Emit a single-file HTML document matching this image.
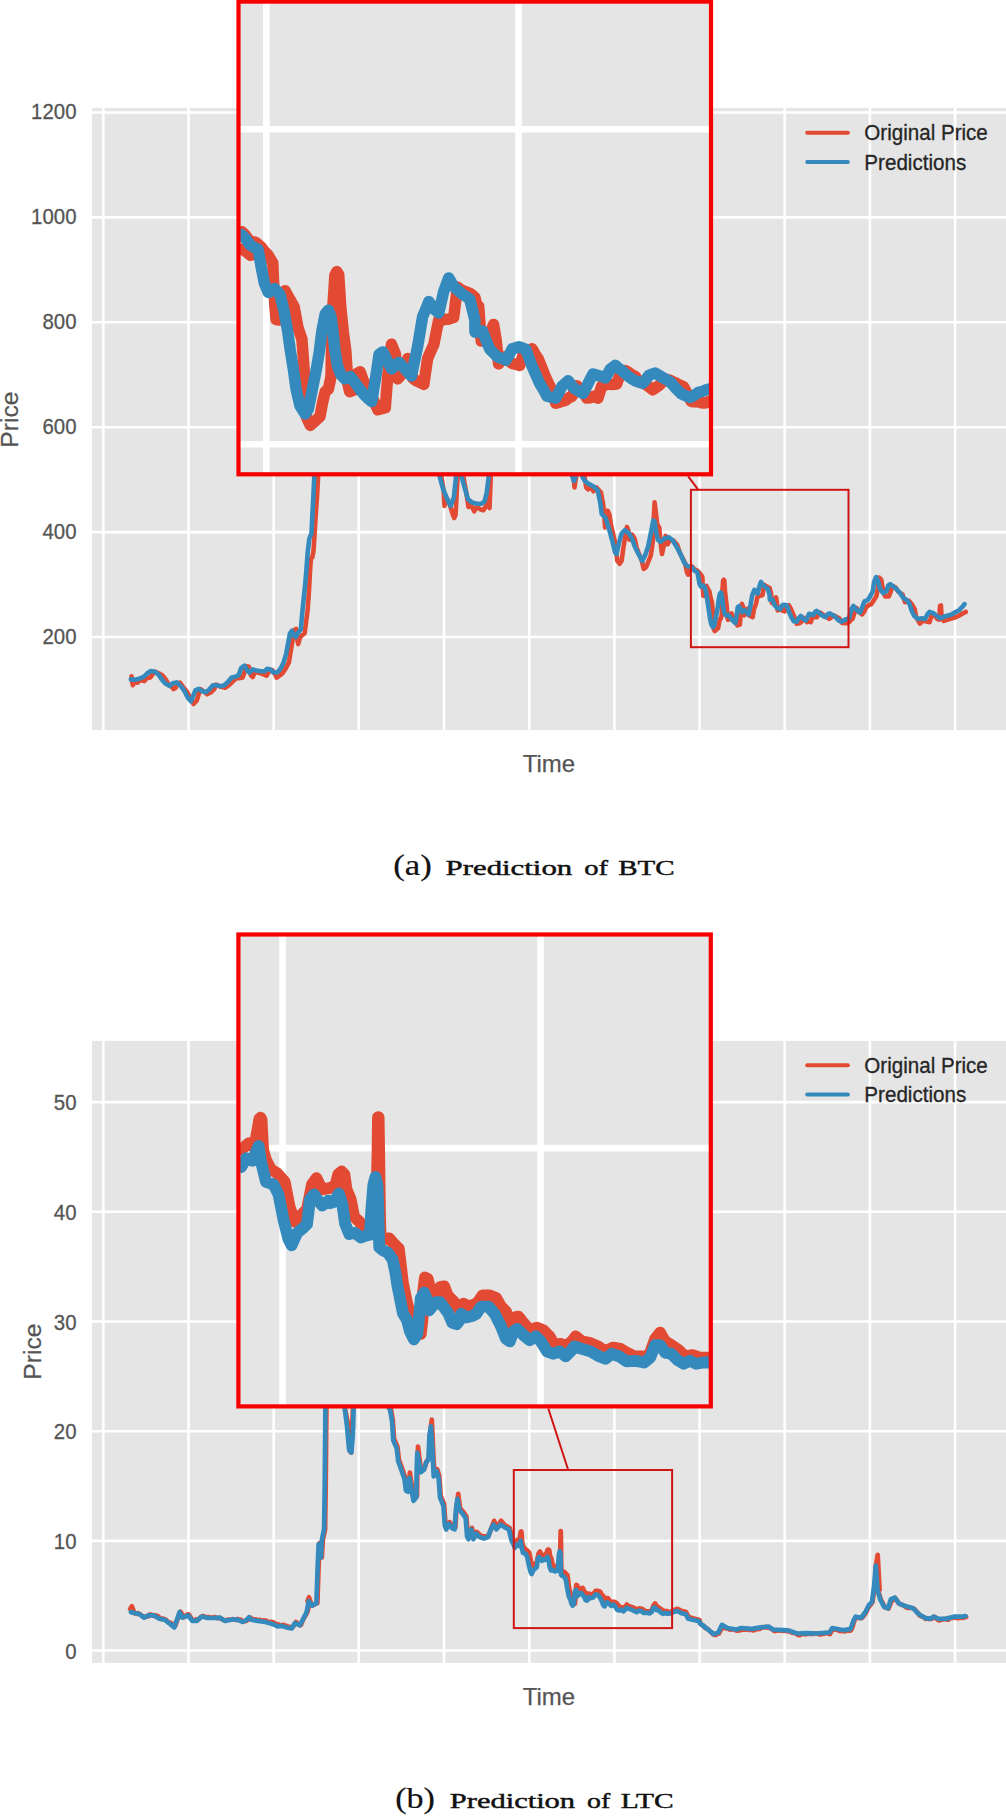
<!DOCTYPE html>
<html><head><meta charset="utf-8"><title>Prediction of BTC and LTC</title>
<style>html,body{margin:0;padding:0;background:#fff}body{width:1006px;height:1817px;overflow:hidden}svg{display:block}text{font-family:"Liberation Sans",sans-serif}.cap{font-family:"Liberation Serif",serif;fill:#111;stroke:#111;stroke-width:.45px}.tk{font-size:22px;fill:#555;stroke:#555;stroke-width:.3px}.ax{font-size:24px;fill:#555;stroke:#555;stroke-width:.25px}.lg{font-size:21.5px;fill:#262626;stroke:#262626;stroke-width:.3px}</style></head><body>
<svg width="1006" height="1817" viewBox="0 0 1006 1817">
<rect width="1006" height="1817" fill="#fff"/>
<!-- chart -->
<rect x="91.9" y="107.9" width="914.1" height="622.1" fill="#e5e5e5"/>
<path d="M103.3 107.9V730M188.5 107.9V730M273.7 107.9V730M358.8 107.9V730M444.0 107.9V730M529.2 107.9V730M614.4 107.9V730M699.6 107.9V730M784.7 107.9V730M869.9 107.9V730M955.1 107.9V730M91.9 112.5H1006M91.9 217.4H1006M91.9 322.3H1006M91.9 427.2H1006M91.9 532.1H1006M91.9 637.0H1006" stroke="#fff" stroke-width="2.6" fill="none"/>
<clipPath id="c1"><rect x="91.9" y="107.9" width="914.1" height="622.1"/></clipPath>
<g clip-path="url(#c1)" fill="none" stroke-linejoin="round" stroke-linecap="round" stroke-width="4.6">
<path d="M131.5 676.2 L132.8 685.2 L134.7 681.4 L137.3 682.6 L140.5 680.1 L144.4 681.1 L147 678.1 L150.2 677.5 L152.8 674.2 L155.4 671.7 L159.2 673.6 L162.5 675.5 L165.7 679.4 L168.3 683.9 L170.9 685.9 L173.5 689.1 L175.7 687.8 L177.3 683.3 L179.9 682.6 L183.2 687.2 L187 691.7 L190.3 698.2 L193.5 704 L196.7 700.7 L198.7 694.3 L200.6 689.1 L203.2 691 L207.1 694.3 L210.9 692.3 L214.2 689.1 L216.1 684.6 L220 686.5 L225.1 687.8 L229 685.2 L232.9 681.4 L236.1 678.1 L240 678.1 L242.5 677.6 L244.4 672.5 L246.3 666.2 L248.9 666.8 L250.8 675.1 L252.7 677 L254.6 672.5 L257.7 672.5 L262.2 673.8 L266.6 675.7 L269.1 671.3 L272.3 670 L274.8 673.8 L276.7 677.6 L279.5 675.7 L282.5 673.3 L285.8 668.2 L288.9 662.4 L290.5 652.3 L292.4 640.9 L294.3 630 L296.1 628.9 L297 638.4 L298.2 644.1 L300.1 637.1 L304.6 633.3 L306.1 621.9 L307.7 609.2 L309 590.3 L310 571.3 L310.9 558.6 L312.3 557.3 L313.5 551 L314.6 533.3 L315.8 514.3 L317.1 495.3 L318.1 476.3M441.4 476.4 L443.6 490.6 L444.5 505.9 L446.2 497.2 L449.5 503.7 L452.8 514.7 L454.3 518 L455.6 514.7 L456.7 492.8 L457.6 476.4M463.3 476.4 L466.3 492.8 L468.5 507 L470.7 503.7 L474.2 511.4 L476.8 507 L480.1 509.2 L483.4 510.3 L486.7 504.8 L488.2 495 L489.5 508.1 L490.8 476.4M573.6 476.5 L574.5 487.4 L576.1 476.5M584.5 476.5 L586.2 487.4 L588.1 489.4 L590.7 486.2 L593.5 491.3 L596.5 487.4 L601 492.6 L603 503.6 L604.2 513.9 L605.1 527.5 L606.6 512.6 L607.7 510.7 L609.4 514.6 L611.1 525.6 L613.9 537.2 L615.9 547.5 L617.2 560.5 L619.8 563.7 L621.7 560.5 L623.2 548.8 L624.9 538.5 L626.9 526.9 L628.4 530.7 L629.4 539.8 L632 534.6 L634.6 538.5 L636.6 547.5 L639.1 554 L641.7 560.5 L643.7 568.9 L646.2 566.9 L648.8 560.5 L650.8 555.3 L652.7 542.4 L653.7 519.1 L654.6 502.3 L655.9 512.6 L657.2 524.3 L659.2 527.5 L660.5 542.4 L662 554 L663.7 546.2 L665.6 535.9 L667.6 544.3 L670.1 539.8 L673.4 540.4 L677.3 545 L679.8 552.7 L682.4 557.9 L685 563 L686.9 572.1 L688.2 574.7 L690.2 568.2 L692 566.5 L693.1 567.8 L694.4 569.4 L696.5 570.1 L698.7 572 L700.6 574.2 L702.3 576.8 L702.6 582.4 L703 591 L703.4 595.7 L704.5 595.9 L704.7 591 L706.4 585.8 L708.2 589.3 L709.5 591.8 L710.7 598.3 L712 602.2 L712.5 608.2 L712.9 614.6 L713.1 621.1 L713.5 628 L714.8 631 L716.3 629.7 L718.1 628 L719 623.3 L719.8 619.4 L720.9 618.5 L721.8 614.6 L722 603.9 L722.4 591 L723.1 580.6 L723.7 579.8 L724.3 580.6 L725 591 L725.9 599.6 L726.7 606 L727.1 612.5 L727.4 616.8 L728 619.8 L729.7 619 L730.4 613.8 L731.5 613.4 L732.7 616.8 L733.2 617.1 L735.3 621.2 L737.4 625.4 L739.9 624.6 L740.7 613.8 L741.9 603.8 L743.2 607.2 L744 615.4 L746.1 613 L747.3 608.8 L749 615.4 L752.7 617.1 L754 608.8 L756 603.8 L757.7 595.6 L761 595.6 L762.7 594.8 L763.9 584.8 L766 586.1 L769.7 588.1 L771 593.1 L771.9 603 L773.9 602.2 L776 597.3 L776.8 602.2 L777.7 610.5 L779.7 608 L782.2 610.5 L784.7 611.3 L785.9 607.2 L788.8 605.1 L790.9 608.8 L793 613.8 L795.1 618.8 L796.7 623.7 L800 622.9 L802.1 621.2 L803.8 617.9 L805.8 619.6 L807.1 622.1 L809.6 621.2 L810.8 622.1 L812 617.9 L814.1 617.1 L817 617.1 L818.2 613.8 L819.9 612.5 L823.3 614.6 L824.5 616.7 L826.6 617.1 L829.1 618.8 L831.1 617.5 L833.6 615.4 L836.9 617.1 L839.4 618.3 L841.9 622.9 L846 623.3 L847.9 622.9 L849.5 621.6 L852.8 618.3 L854.7 611.9 L856.6 608 L858.6 611.9 L862.1 614.4 L864.4 611.3 L865.9 607.5 L868.5 605.4 L871.2 604.2 L873.8 600.4 L876.4 596.1 L878 588 L879.2 577.6 L881.2 579.6 L882.5 587.3 L885.1 596.4 L888.9 596.4 L890.9 591.2 L892.2 586 L895.4 587.3 L898.6 591.8 L902.5 594.4 L905.1 602.2 L909 600.9 L912.2 604.8 L914.8 609.3 L916.1 617 L920 623.5 L923.2 620.3 L926.4 621.6 L929.6 622.2 L931.3 616.4 L934.2 615.1 L937.4 619 L939.3 619.6 L940 606 L940.9 605.4 L941.7 618.3 L943.9 620.9 L947.7 619.6 L952.3 618.3 L956.1 617 L960 615.1 L963.2 613.2 L965.8 611.9" stroke="#e24a33"/><path d="M130.8 679.4 L135.3 679.8 L139.9 678.5 L144.4 676.4 L147.6 673 L150.8 671 L154.7 671.7 L158.6 674.6 L161.8 679.4 L165.1 683.3 L169.6 685.9 L172.8 683.3 L176.7 682.4 L180.6 685.9 L184.4 691 L187.7 697.5 L190.9 701.4 L192.8 696.9 L195.4 690.4 L198.7 688.8 L201.9 691 L205.8 692.3 L209 689.8 L212.9 685.2 L216.7 685.2 L220.6 686.3 L224.5 685.2 L228.4 681.4 L231.6 677.5 L235.5 676.8 L238.7 674.9 L241.3 667.8 L241.9 667.5 L244.4 665.6 L247 670 L249.5 672.5 L252.7 669.4 L256.5 670.6 L260.9 671.3 L264.7 671.3 L267.2 668.7 L270.4 669.4 L273.5 672.5 L277.3 672.5 L280.5 668.7 L283.7 662.4 L286.2 653.5 L288.1 643.4 L290 633.3 L291.9 630.8 L293.8 635.8 L295.7 637.1 L297.6 633.3 L300.8 629.5 L302 615.6 L303.9 596.6 L305.2 583.9 L306.5 568.7 L307.7 552.3 L309.4 538.4 L311.5 533.3 L312.4 514.3 L313.4 495.3 L314.3 476.3M439.6 476.4 L442.9 488.4 L447.3 499.4 L450.6 505.9 L453.9 497.2 L456 476.4M461.5 476.4 L464.8 488.4 L468.1 499.4 L472.4 502.6 L476.8 503.7 L481.2 503.7 L484.5 501.6 L486.7 492.8 L488.8 476.4M572.3 476.5 L573.9 481 L575.4 476.5M582.3 476.5 L584.9 481 L588.1 483.6 L593.3 486.2 L597.8 490.7 L600.4 503.6 L601.7 513.9 L605.5 517.8 L608.8 528.2 L612 539.8 L615.2 552.7 L616.5 554 L619.1 542.4 L621.7 533.3 L624.9 530.1 L628.8 533.3 L632 538.5 L634.6 546.2 L638.5 554 L642.4 561.1 L645.6 554 L648.2 546.2 L650.8 533.3 L653.3 520.4 L654.6 521.7 L655.9 530.7 L657.9 539.8 L660.5 541.7 L664.3 538.5 L668.9 537.2 L672.7 540.4 L677.3 548.2 L681.1 555.3 L684.4 563 L687.6 566.3 L690.8 566.9 L691.8 567.3 L693.1 568.6 L694.8 571 L697.4 572.2 L698.5 578.1 L699.5 583.7 L700.8 586.7 L703 585.4 L704.7 587.1 L706 592.3 L707.3 599.6 L708.2 606 L709.2 612.5 L710.1 619 L711.4 624.6 L713.1 627.1 L714.2 625.4 L715.5 619 L716.8 612.5 L717.9 606.5 L718.7 599.6 L719.8 594 L720.9 592.5 L721.8 594.9 L722.4 599.6 L723.1 606 L723.9 611.2 L725 614.2 L726.3 615.5 L728.2 614.9 L729.7 616.8 L731.5 619 L733.2 621.1 L735.3 622.9 L736.6 615.4 L737.8 607.2 L739 606.3 L740.7 609.6 L741.9 612.1 L744.4 610.1 L746.5 612.1 L748.6 614.6 L750.6 604.7 L752.3 594.8 L754.4 589.8 L756 592.3 L757.7 593.5 L759.3 586.5 L761 581.9 L762.7 584.8 L766 587.7 L768 589 L769.7 595.6 L769.8 599.7 L772.3 599.3 L774.8 605.5 L777.2 608 L780.1 609.2 L782.2 605.5 L784.3 604.7 L786.8 605.5 L788.8 611.3 L791.3 617.1 L793.8 621.2 L796.7 621.7 L798.8 617.9 L800.9 615.9 L802.9 618.8 L805.8 620.4 L807.9 616.3 L809.1 613.8 L810.8 614.2 L813.3 615 L814.9 612.1 L816.6 610.9 L818.7 612.5 L822 615.4 L825.7 617.1 L827.8 614.2 L829.9 613.4 L832.4 615 L835.3 616.7 L838.6 620.4 L841.5 621.7 L844.4 620 L847.9 618.8 L848.9 618.3 L851.5 609.3 L853.4 606 L856.6 609.9 L859.9 612.5 L862.4 606.7 L864.4 601.5 L867.6 600.2 L870.2 596.4 L872.8 591.2 L874.1 582.1 L876 577 L878 580.8 L879.9 588.6 L883.1 593.1 L886.4 591.2 L888.3 585.4 L890.2 584.1 L893.5 586.7 L896.7 589.2 L900.6 593.8 L903.8 598.3 L907 600.2 L909.6 604.1 L911.6 610.6 L914.1 615.7 L918 619 L921.9 618.3 L925.1 619 L927.7 613.8 L929.6 611.9 L933.5 613.2 L936.7 615.7 L940 618.3 L943.2 617 L947.1 615.7 L951 614.7 L954.8 612.5 L959.4 609.9 L962.6 606.7 L964.5 604.1" stroke="#348abd"/>
</g>
<text class="tk" transform="translate(76.5 119.2) scale(0.928 1)" text-anchor="end">1200</text>
<text class="tk" transform="translate(76.5 224.1) scale(0.928 1)" text-anchor="end">1000</text>
<text class="tk" transform="translate(76.5 329) scale(0.928 1)" text-anchor="end">800</text>
<text class="tk" transform="translate(76.5 433.9) scale(0.928 1)" text-anchor="end">600</text>
<text class="tk" transform="translate(76.5 538.8) scale(0.928 1)" text-anchor="end">400</text>
<text class="tk" transform="translate(76.5 643.7) scale(0.928 1)" text-anchor="end">200</text>
<rect x="690.9" y="489.8" width="157.60000000000002" height="157.40000000000003" fill="none" stroke="#d01414" stroke-width="2"/>
<path d="M688.2 476.4L698.3 489.8" stroke="#d01414" stroke-width="2" fill="none"/>
<rect x="238.5" y="1.6" width="472.5" height="472.7" fill="#e5e5e5"/>
<clipPath id="c1i"><rect x="238.5" y="1.6" width="472.5" height="472.7"/></clipPath>
<g clip-path="url(#c1i)" fill="none" stroke-linejoin="round" stroke-linecap="round">
<path d="M266.3 1.6V474.3M518.5 1.6V474.3M238.5 129.2H711M238.5 444.3H711" stroke="#fff" stroke-width="6.6" stroke-linecap="butt"/>
<path d="M241.8 231.8 L245 234.7 L248.9 240.2 L252.2 241.8 L255.4 242.2 L258.6 244.8 L261.8 247.8 L264.8 251.9 L267.7 254.5 L272.8 262.9 L273.5 279.9 L274.8 305 L276.1 319.6 L279.3 320.1 L279.9 305.3 L285.1 290.7 L290.3 300 L294.2 307.1 L298 327.7 L301.9 339.1 L303.2 356.6 L304.5 376 L305.1 395.4 L306.4 417.1 L310.3 425.4 L314.8 421.2 L320 416.5 L322.6 402.4 L325.2 391.5 L328.4 389.1 L331 376.7 L331.6 343.8 L332.9 305.9 L334.9 275.4 L336.8 271.6 L338.7 274.6 L340.7 306.2 L343.3 331.9 L345.8 350.5 L347.1 370.5 L347.8 383.6 L349.7 391.7 L354.9 389.6 L356.8 373.5 L360.1 371.8 L363.9 382.3 L365.4 383.3 L368.5 389.7 L371.7 396.3 L374.8 403.1 L377.9 409.7 L381.6 408.7 L385.3 407.7 L387.8 375.1 L391.5 344.3 L395.3 353.6 L397.7 378.9 L400.9 375.3 L404 371.8 L407.7 358.5 L412.7 378.2 L416.4 380.9 L420.1 382.6 L423.8 384.4 L427.6 358.5 L430.7 351.2 L433.8 344.6 L438.7 319.8 L442 320.3 L445.4 319.3 L448.7 319.2 L453.7 317.3 L457.4 287.1 L460.5 289.4 L463.6 291 L467.3 292.3 L471.1 294 L474.8 297.3 L478.5 311.4 L478.7 306.2 L481.2 341.1 L484.3 340.5 L487.4 339.8 L490.5 332 L493.6 324.4 L496.1 339.7 L498.6 363.9 L501.7 360 L504.8 356.7 L508.5 360.6 L512.2 363.4 L516 364.3 L519.7 365.5 L523.4 354 L527.8 351.3 L532.1 348.8 L535.2 354.3 L538.3 359 L541.5 366.9 L544.6 375 L547.7 381.6 L550.8 388.2 L555.7 403.3 L559 402.4 L562.4 401.3 L565.7 400.2 L568.8 397.7 L571.9 396.4 L576.9 385.7 L580 388.8 L583.1 390.9 L586.8 398.1 L590.5 397.7 L594.3 396.1 L598 398.2 L601.7 386 L604.8 385.3 L607.9 384 L612.2 384.5 L616.6 384 L620.3 374.1 L625.3 370.6 L628.6 372.4 L632 374.7 L635.3 376.5 L639 382.2 L642.1 382.4 L645.2 384 L649 386.8 L652.7 389.8 L655.8 387.7 L658.9 385.6 L662.6 381.7 L666.3 379.3 L669.6 380.1 L673 381.9 L676.3 383.2 L680 385.2 L683.7 387 L687.5 394.1 L691.2 401.5 L694.3 401.7 L697.4 401.5 L700.5 402.5 L703.6 403 L706.4 402.7 L709.1 401.3M242.2 249.2 L246.3 251.8 L250.5 255.3" stroke="#e24a33" stroke-width="11.5"/><path d="M241.2 234.4 L245 237.9 L250.2 245 L254.1 247.5 L258 249.3 L261.2 266.9 L264.4 283.3 L268.3 292.4 L271.6 290.9 L274.8 288.8 L279.9 294.3 L283.8 309.8 L287.7 331.4 L290.3 350.3 L293.5 370.2 L296.1 389.2 L300 405.7 L305.1 413.9 L308.4 409.1 L312.2 389.9 L316.1 370.7 L319.3 352 L321.9 330.9 L325.2 314 L328.4 310.2 L331 316.8 L332.9 330.9 L334.9 350.1 L337.4 365.5 L340.7 374.5 L344.5 378.7 L350.4 376.7 L354.9 382.6 L360.1 389.7 L365.2 395.7 L368.4 398.8 L371.7 401.6 L375.4 379.1 L379.1 354.3 L382.8 351.9 L387.8 361.7 L391.5 368.9 L395.2 365.7 L399 362.5 L402.1 365.7 L405.2 369.3 L408.3 372.8 L411.4 376.1 L414.5 361.3 L417.6 346.8 L422.6 316.8 L425.7 309.5 L428.8 301.6 L433.8 308.8 L438.7 313 L443.7 291.5 L448.7 277.9 L453.7 286.7 L458.6 291 L463.6 295.1 L466.7 296.9 L469.8 299.5 L474.8 319.5 L475 332.2 L478.7 331.3 L482.4 331 L486.1 340.3 L489.9 349.4 L493.6 353 L497.3 356.7 L501.6 358.2 L506 360.1 L509.1 354.8 L512.2 348.9 L515.4 348.1 L518.5 346.7 L522.2 348 L525.9 349.4 L529 358.1 L532.1 366.3 L535.9 374.9 L539.6 383.3 L543.3 389.4 L547 396.4 L551.4 397.1 L555.7 398.1 L558.8 392.5 L561.9 386.4 L565 383.7 L568.2 380.8 L571.3 384.8 L574.4 388.6 L578.8 391.1 L583.1 393.4 L586.2 387.3 L589.3 380.9 L593 374 L598 375.6 L601.7 376.4 L605.4 377.9 L610.4 369.2 L615.4 365.4 L618.5 368.1 L621.6 370.3 L626.5 374.9 L631.5 378.6 L635.2 380.9 L639 382.1 L642.7 383.4 L645.8 379.7 L648.9 375.4 L652 374.2 L655.1 373.1 L658.9 375.3 L662.6 377.4 L667 379.9 L671.3 383 L676.2 388.8 L681.2 393.8 L685.5 395.7 L689.9 397.5 L694.2 395.4 L698.6 392.3 L702.1 391.5 L705.6 390 L709.1 388.9" stroke="#348abd" stroke-width="11.5"/>
</g>
<rect x="238.5" y="1.6" width="472.5" height="472.7" fill="none" stroke="#f60000" stroke-width="4.2"/>
<path d="M807.2 132.8H847.9" stroke="#e24a33" stroke-width="4" stroke-linecap="round"/>
<path d="M807.2 161.9H847.9" stroke="#348abd" stroke-width="4" stroke-linecap="round"/>
<text class="lg" x="864.3" y="140.4" textLength="123.5" lengthAdjust="spacingAndGlyphs">Original Price</text>
<text class="lg" x="864.3" y="169.5" textLength="102" lengthAdjust="spacingAndGlyphs">Predictions</text>
<text class="ax" x="548.9" y="772" text-anchor="middle">Time</text>
<text class="ax" transform="translate(17.599999999999998 419.54999999999995) rotate(-90)" text-anchor="middle" style="font-size:24.7px">Price</text>
<text class="cap" x="393.2" y="874.7" font-size="29" textLength="38.6" lengthAdjust="spacingAndGlyphs" style="stroke-width:.2px">(a)</text>
<text class="cap" x="445.6" y="874.7" font-size="21.5" textLength="126.6" lengthAdjust="spacingAndGlyphs">Prediction</text>
<text class="cap" x="584.2" y="874.7" font-size="21.5" textLength="23.8" lengthAdjust="spacingAndGlyphs">of</text>
<text class="cap" x="618.2" y="874.7" font-size="21.5" textLength="56.4" lengthAdjust="spacingAndGlyphs">BTC</text>
<!-- chart -->
<rect x="91.9" y="1040.9" width="914.1" height="622.0" fill="#e5e5e5"/>
<path d="M103.3 1040.9V1662.9M188.5 1040.9V1662.9M273.7 1040.9V1662.9M358.8 1040.9V1662.9M444.0 1040.9V1662.9M529.2 1040.9V1662.9M614.4 1040.9V1662.9M699.6 1040.9V1662.9M784.7 1040.9V1662.9M869.9 1040.9V1662.9M955.1 1040.9V1662.9M91.9 1102.1H1006M91.9 1211.8H1006M91.9 1321.5H1006M91.9 1431.2H1006M91.9 1540.9H1006M91.9 1650.5H1006" stroke="#fff" stroke-width="2.6" fill="none"/>
<clipPath id="c2"><rect x="91.9" y="1040.9" width="914.1" height="622.0"/></clipPath>
<g clip-path="url(#c2)" fill="none" stroke-linejoin="round" stroke-linecap="round" stroke-width="4.7">
<path d="M131.9 1611.7 L133.4 1612.7 L134.8 1613.2 L136.3 1613.9 L137.8 1613.2 L139.2 1613.8 L140.7 1614.7 L142.2 1616 L143.6 1616.7 L145.1 1616.9 L146.5 1616.2 L148 1616.5 L149.4 1614.6 L151.2 1614.5 L153.1 1615.6 L154.9 1615.2 L156.7 1615.7 L158.6 1616.7 L160.4 1618.8 L162.2 1618.6 L164 1618.9 L165.8 1619.6 L167.6 1621.5 L169.5 1622.6 L171.3 1623.2 L173.2 1625.2 L175.2 1626.1 L176.8 1621.5 L178.3 1617.3 L180.5 1611.6 L181.9 1614 L183.3 1617.3 L184.9 1616.1 L186.6 1615.2 L187.9 1614.3 L189.2 1614.8 L191.2 1618.3 L193.2 1620.3 L194.6 1619.9 L196.1 1619.4 L197.5 1620.3 L199.3 1618.6 L201.2 1616.7 L203 1616 L204.8 1616.7 L206.7 1617.1 L208.5 1617 L210.1 1617.6 L211.8 1617.7 L213.4 1617.5 L215 1617 L216.8 1617.9 L218.7 1618.2 L220.5 1617.9 L222.3 1619.5 L224.2 1620.1 L226 1620.5 L227.7 1619.5 L229.5 1619.8 L231.2 1619.5 L233 1619.1 L234.7 1619.7 L236.2 1620 L237.6 1619 L239.1 1620 L240.6 1619.5 L242 1620.9 L243.5 1621.3 L244.9 1621.1 L246.4 1621 L247.8 1619.9 L250 1617.5 L252.2 1618.9 L253.8 1619.8 L255.5 1619.3 L257.1 1619.9 L258.8 1620 L260.3 1619.8 L261.8 1620.9 L263.4 1620.4 L264.9 1620.6 L266.4 1620.5 L267.9 1621.8 L269.5 1622 L271 1621.9 L272.6 1622.1 L274.1 1622.7 L275.6 1624 L277 1624.1 L278.5 1624.6 L279.9 1625.5 L281.4 1625.5 L282.8 1624.8 L284.3 1625.4 L285.7 1625.6 L287.2 1626.2 L289 1626.8 L290.9 1627 L292.7 1627.2 L294.4 1624.5 L296 1622 L297.4 1623.2 L298.9 1624.7 L300.3 1625.3 L301 1624.9 L302.6 1620.7 L304.3 1617.4 L306 1614.8 L307.6 1611.5 L309.7 1601.3 L311.4 1603.9 L313 1605.3 L314.5 1604.3 L315.9 1603.3 L317.4 1603.1 L318.5 1569.5 L319.6 1543.2 L321.8 1557.5 L322.9 1539.5 L325.1 1529.4 L325.7 1487.3 L326.4 1408.3M345 1408.7 L348.4 1426.2 L350 1451.3 L351.2 1452.5 L351.9 1432.8 L353 1408.7M390.1 1407.1 L390.6 1407.4 L392.7 1419.2 L394 1438.7 L397.5 1447 L398.9 1459.6 L402.4 1469.3 L405.2 1477.7 L406.6 1488.8 L408.7 1490.2 L409.9 1472.6 L412.1 1487.4 L414.2 1499.2 L417 1495.7 L417.4 1467.9 L418 1446.6 L419.8 1461 L421.2 1470.7 L424.7 1467.9 L426.7 1461 L429.1 1458.2 L430.2 1433.1 L431.8 1419.5 L433 1447 L434.4 1474.9 L437.2 1469.3 L439.3 1476.3 L440.7 1495.7 L444.1 1504.1 L445.5 1523.6 L446.9 1527.8 L449.7 1522.2 L452.5 1526.4 L455.3 1527.8 L456.7 1506.9 L458.2 1493.9 L460.1 1508.3 L463.6 1512.4 L466.4 1516.6 L467.8 1534.7 L469.2 1537.5 L472 1527.8 L474.1 1537.5 L476.8 1531.9 L480.3 1535.4 L484.5 1536.8 L488.7 1535.4 L491.5 1527.8 L494.1 1520.8 L497 1527.8 L501.1 1520.8 L505.4 1525.7 L509.6 1527.8 L512.3 1538.9 L514.4 1543.1 L514.7 1542.1 L517.2 1540 L519.1 1541.3 L519.4 1540 L520.4 1534.1 L520.8 1531.7 L521.2 1531.4 L521.5 1531.9 L521.8 1536.3 L522.1 1542.1 L523 1545.6 L524.7 1548.7 L526.8 1550 L529.3 1552.9 L531 1561.2 L532.6 1566.2 L535.1 1563.7 L536.8 1562.1 L538.5 1553.7 L540 1551.6 L541.8 1555.4 L544.3 1555 L544.5 1554.9 L546.3 1554 L547.3 1550.3 L548.4 1549.4 L549.3 1550.3 L550 1555.4 L551.4 1558.6 L552.6 1564.6 L554.2 1566 L555.6 1567.9 L557.4 1566.9 L559.2 1564.6 L560.1 1557.7 L560.4 1543.9 L560.6 1531.2 L560.8 1531.2 L561 1543.9 L561.2 1562.3 L561.5 1571.5 L562.5 1572 L564.3 1571.8 L565.7 1573.4 L567.5 1575.2 L568.2 1580.8 L568.9 1586.8 L570.1 1592.3 L571.2 1597.3 L572.1 1601.5 L573.5 1603.3 L574.9 1603.8 L575.5 1599.2 L575.7 1590 L576.3 1584.9 L577.2 1585.4 L578.4 1590 L580 1590.9 L581.4 1588.1 L582.8 1587.9 L583.9 1590.9 L585.3 1592.3 L586.9 1594.1 L588.1 1596 L589.3 1593.7 L590.9 1594.5 L591.4 1594.7 L593.9 1593.4 L595.6 1590.9 L598.1 1590.9 L600.2 1591.7 L601.8 1594.7 L603.5 1596.3 L604.7 1600.5 L606 1598.4 L607.7 1598 L609.3 1600.1 L611.4 1602.6 L613.9 1601.7 L616 1602.6 L618 1604.6 L619.7 1607.6 L621.8 1607.2 L623.5 1608 L625.6 1606.3 L626.8 1604.6 L628.9 1606.3 L631.4 1606.8 L634.3 1608 L636.8 1609.7 L639.3 1608.4 L641.8 1608.8 L643.9 1610.1 L646.4 1611.3 L648.9 1611.3 L651.4 1611.3 L653.4 1605.5 L655.1 1603.4 L656.8 1606.3 L658.9 1607.6 L661.3 1609.2 L663.5 1611.3 L665.9 1610.9 L668.4 1611.8 L671.4 1611.8 L672.8 1610.4 L677.6 1608.8 L681.9 1611 L685.9 1611.7 L688.5 1616.9 L692.9 1618.3 L699.4 1620 L700.6 1624.2 L702.1 1625.1 L703.6 1625.7 L705.2 1628 L706.7 1628.5 L708.2 1629.3 L709.7 1631.1 L711.3 1632.2 L712.8 1634.2 L714.3 1634.7 L715.8 1635 L717.4 1633.8 L718.9 1633.5 L720.7 1630.2 L722.5 1626.3 L724.3 1627.7 L726.2 1628.5 L728 1628.4 L729.5 1629.5 L731 1629.6 L732.6 1629.4 L734.1 1629.3 L735.6 1630.3 L737.1 1630.6 L738.6 1630.6 L740.2 1630.1 L741.7 1629.9 L743.2 1629.5 L744.7 1629.6 L746.2 1629.6 L747.8 1629.1 L749.3 1630.1 L750.8 1629.6 L752.3 1630.1 L753.8 1630.3 L755.3 1629.8 L756.9 1628.7 L758.4 1629.1 L759.9 1628.9 L761.4 1627.9 L762.9 1627.2 L764.4 1627.5 L766 1626.8 L767.5 1627.7 L769 1627.4 L770.5 1628.4 L772.1 1629.2 L773.6 1630.5 L775.1 1631.1 L776.6 1630.5 L778.2 1630.4 L779.7 1630.7 L781.2 1630.5 L782.7 1630.9 L784.2 1631 L785.8 1631 L787.3 1631.3 L788.8 1631.3 L790.3 1631.1 L791.8 1632.7 L793.4 1632.8 L794.9 1633.2 L796.4 1633.6 L797.9 1634.9 L799.4 1635.2 L801 1634.6 L802.5 1634.2 L804 1633.5 L805.6 1634.4 L807.1 1633.6 L808.6 1634 L810.1 1633.8 L811.6 1633.8 L813.2 1633.8 L814.7 1633.6 L816.2 1633.3 L817.7 1633.8 L819.2 1634.4 L820.8 1634.3 L822.3 1633.6 L823.8 1633.9 L825.3 1633 L826.9 1633.1 L828.4 1633.7 L829.9 1634.1 L831.4 1631.3 L832.9 1629.5 L834.4 1629.4 L835.9 1629.6 L837.5 1629.9 L839 1630.8 L840.5 1631.1 L842 1630.8 L843.6 1631.2 L845.1 1631.3 L846.6 1630.6 L848.1 1630.7 L849.7 1630.7 L851.2 1630.2 L852.7 1626.3 L854.2 1620.9 L856.3 1617.3 L858.1 1618 L860 1618.1 L861.8 1618.1 L863.3 1616.5 L864.9 1614.2 L866.4 1611.7 L867.9 1608.2 L869.4 1606.3 L870.9 1604.4 L872.5 1602.3 L874.6 1587 L876.4 1565.7 L878.2 1591 L879.5 1595 L880.7 1599.4 L882.6 1602.8 L884.6 1607.1 L886.6 1607.6 L888.6 1608.5 L890.1 1604.6 L891.6 1600.6 L893.5 1600 L895.3 1598.1 L896.8 1600.1 L898.3 1602.8 L899.8 1603.9 L901.3 1604.3 L902.9 1605.3 L904.4 1605.9 L905.9 1607.1 L907.4 1607.8 L908.9 1607.9 L910.5 1607.8 L912 1608 L913.5 1608.4 L915 1609.6 L916.6 1611.9 L918.1 1613 L919.6 1615.4 L921.1 1616.4 L922.6 1616.4 L924.2 1617.6 L925.7 1618.8 L927.2 1618.4 L928.8 1619 L930.3 1618.8 L932.3 1618.6 L934.2 1616.7 L935.9 1618.1 L937.7 1619.7 L939.4 1620.5 L940.9 1619.6 L942.4 1619.6 L944 1619 L945.5 1619 L947 1619.7 L948.5 1619.7 L950 1618.2 L951.6 1617.9 L953.1 1617.9 L954.6 1617 L956.1 1617.7 L957.6 1618.2 L959.2 1617.9 L960.7 1617.5 L962.2 1618 L964.1 1617.5 L966.1 1616.9M130.2 1609 L131.9 1606.3 L133.5 1610.5M307.5 1601 L309 1597.2 L311 1603M875.5 1568 L877.7 1554.8 L879.6 1590" stroke="#e24a33"/><path d="M130.9 1612.1 L135.3 1613.2 L139.7 1614.3 L144.1 1617.6 L148.4 1615.4 L153.9 1615.4 L159.4 1618.7 L164.8 1619.8 L170.3 1624.2 L174.2 1627.4 L177.3 1618.7 L179.5 1612.1 L182.3 1617.6 L185.6 1616.5 L188.2 1615.4 L192.2 1620.9 L196.5 1620.9 L202 1616.5 L207.5 1618 L214 1618 L219.5 1617.6 L225 1620.9 L233.7 1619.3 L238.1 1619.8 L242.5 1622 L246.8 1619.8 L249 1617.2 L251.2 1619.8 L257.8 1620.9 L265.4 1622 L273.1 1624.2 L277.5 1626.3 L281.8 1625.9 L286.2 1627.4 L291.7 1628.5 L295 1623.1 L299.3 1625.2 L300 1625.2 L303.3 1618.7 L306.6 1612.1 L308.7 1601.2 L312 1605.6 L316.4 1603.4 L317.5 1570.6 L318.6 1544.3 L320.8 1557.5 L321.9 1540 L324.1 1529 L324.7 1487.5 L325.4 1408.7M344.8 1408.7 L347 1426.2 L349.2 1450.3 L351.4 1452.5 L352.9 1432.8 L353.6 1408.7M389.2 1408.7 L389.9 1409 L392 1420.9 L393.3 1440.4 L396.8 1448.7 L398.2 1461.2 L401.7 1471 L404.5 1479.3 L405.9 1490.5 L408 1491.8 L409.4 1477.9 L411.4 1489.1 L413.5 1500.9 L416.3 1497.4 L416.7 1469.6 L417.3 1452.9 L419.1 1462.6 L420.5 1472.4 L424 1469.6 L426.1 1462.6 L428.4 1459.8 L429.5 1434.8 L430.9 1426.4 L432.3 1448.7 L433.7 1476.5 L436.5 1471 L438.6 1477.9 L440 1497.4 L443.4 1505.8 L444.8 1525.2 L446.2 1529.4 L449 1523.9 L451.8 1528 L454.6 1529.4 L456 1508.5 L457.4 1498.8 L459.5 1509.9 L462.9 1514.1 L465.7 1518.3 L467.1 1536.4 L468.5 1539.2 L471.3 1529.4 L473.4 1539.2 L476.2 1533.6 L479.6 1537.1 L483.8 1538.5 L488 1537.1 L490.8 1529.4 L493.5 1524.6 L496.3 1529.4 L500.5 1524.6 L504.7 1527.3 L508.9 1529.4 L511.6 1540.6 L513.7 1544.7 L514.7 1547.9 L516.4 1545 L518.5 1545.8 L520.6 1540.8 L521.4 1546.3 L523 1552.9 L525.6 1553.7 L527.2 1557.1 L528.9 1565.4 L530.6 1572 L531.6 1574.1 L533.5 1570 L535.5 1568.3 L536.8 1567.1 L537.8 1558.7 L539.1 1557.1 L540.5 1559.2 L541.9 1560.8 L543.9 1559.2 L544.5 1560 L545.9 1559.6 L547.5 1556.8 L548.7 1560.5 L549.6 1566.9 L551 1570.4 L552.8 1569.9 L554.9 1571.5 L556.7 1570.8 L557.9 1570.6 L558.3 1562.3 L559 1554 L559.7 1551.2 L560.4 1554 L560.7 1562.3 L560.9 1571.5 L561 1574.8 L562 1575.7 L563.9 1576.6 L565.5 1578.9 L566.4 1583.1 L567.1 1587.7 L568 1592.3 L568.9 1596.9 L570.3 1599.2 L571.2 1602.9 L572.6 1605.7 L573.8 1603.8 L574.5 1596.9 L574.9 1591.8 L576.1 1590 L577 1592.3 L577.7 1596 L578.8 1594.6 L580 1593.2 L581.4 1593.2 L582.8 1595 L584.1 1596.9 L585.5 1600.1 L586.9 1600.6 L588.1 1599.2 L588.4 1597 L590.1 1598.3 L592.2 1597.8 L593.5 1597.2 L595.2 1594.7 L597.6 1594.7 L599.8 1597.2 L601.8 1601.3 L603.5 1605.5 L604.7 1606.3 L606 1603 L607.2 1602.2 L609.3 1604.2 L611.4 1605.9 L613.5 1604.6 L615.1 1606.3 L617.2 1609.7 L619.3 1610.5 L621.4 1609.7 L623.5 1611.3 L625.1 1609.7 L626.4 1608 L628.9 1608.8 L631.8 1609.7 L634.7 1611.3 L636.8 1612.2 L638.9 1610.5 L641.4 1611.3 L643.9 1613 L646.8 1612.8 L649.7 1613.4 L651.8 1611.8 L653.4 1607.6 L655.1 1607.6 L656.8 1610.1 L658.9 1610.5 L660.9 1612.6 L663 1613.8 L665.1 1612.8 L667.2 1613.8 L669.7 1613.4 L671.4 1613.4 L672.8 1612.1 L677.1 1611 L681.5 1613.2 L685.9 1614.3 L688.1 1618.7 L692.4 1619.8 L699 1621.3 L700 1623.4 L706.1 1628 L713.7 1634.1 L718.3 1632.5 L721.9 1624.9 L727.4 1628 L736.5 1629.5 L741.1 1628 L751.7 1628.9 L760.8 1627.4 L768.4 1626.5 L773 1629.5 L788.2 1630.4 L797.3 1633.5 L806.5 1633.2 L815.6 1633.5 L829.3 1632.5 L832.3 1628 L839.9 1629.5 L844.5 1630.1 L850.6 1628.9 L853.6 1620.4 L855.7 1616.7 L861.2 1617.9 L865.8 1611.3 L868.8 1605.2 L871.9 1602.1 L874 1586.9 L875.8 1565.6 L877.6 1590 L880.1 1599.1 L884 1606.7 L888 1608.2 L891 1599.1 L894.7 1597.6 L899.2 1603.6 L905.3 1606.1 L912.9 1608.2 L919 1614.3 L925.1 1617.9 L929.7 1618.9 L933.6 1616.7 L938.8 1618.9 L946.4 1618.6 L954 1616.7 L961.6 1616.7 L965.5 1616.1" stroke="#348abd"/>
</g>
<text class="tk" transform="translate(76.5 1110.2) scale(0.928 1)" text-anchor="end">50</text>
<text class="tk" transform="translate(76.5 1219.9) scale(0.928 1)" text-anchor="end">40</text>
<text class="tk" transform="translate(76.5 1329.6) scale(0.928 1)" text-anchor="end">30</text>
<text class="tk" transform="translate(76.5 1439.3) scale(0.928 1)" text-anchor="end">20</text>
<text class="tk" transform="translate(76.5 1549) scale(0.928 1)" text-anchor="end">10</text>
<text class="tk" transform="translate(76.5 1658.6) scale(0.928 1)" text-anchor="end">0</text>
<rect x="513.8" y="1470" width="158.30000000000007" height="158.0999999999999" fill="none" stroke="#d01414" stroke-width="2"/>
<path d="M548.3 1408.5L568.2 1470" stroke="#d01414" stroke-width="2" fill="none"/>
<rect x="238.4" y="934.5" width="472.4" height="471.9000000000001" fill="#e5e5e5"/>
<clipPath id="c2i"><rect x="238.4" y="934.5" width="472.4" height="471.9000000000001"/></clipPath>
<g clip-path="url(#c2i)" fill="none" stroke-linejoin="round" stroke-linecap="round">
<path d="M282.5 934.5V1406.4M540.5 934.5V1406.4M238.4 1148.1H710.8" stroke="#fff" stroke-width="6.6" stroke-linecap="butt"/>
<path d="M241.2 1149.6 L248.6 1143.4 L254.1 1147.2 L255.1 1143.3 L258.2 1125.8 L259.4 1118.7 L260.6 1117.7 L261.5 1119.4 L262.2 1132.3 L263.1 1149.8 L266 1160.1 L271 1169.5 L277.2 1173.3 L284.7 1181.9 L289.6 1206.8 L294.6 1221.7 L302.1 1214.3 L307 1209.3 L312 1184.4 L316.5 1178.2 L321.9 1189.4 L329.4 1188.2 L330 1188 L335.5 1185.3 L338.3 1174.3 L341.7 1171.5 L344.4 1174.3 L346.5 1189.4 L350.6 1199 L354.1 1216.9 L358.9 1221.1 L363 1226.6 L368.5 1223.8 L374 1216.9 L376.5 1196.3 L377.5 1155 L378 1117.2 L378.6 1117.2 L379.2 1155 L379.9 1210.1 L380.6 1237.6 L383.7 1238.9 L389.2 1238.3 L393.3 1243.1 L398.8 1248.6 L400.8 1265.1 L402.9 1283 L406.3 1299.5 L409.8 1314.6 L412.5 1327 L416.7 1332.5 L420.8 1333.9 L422.4 1320.1 L423 1292.6 L424.9 1277.5 L427.7 1278.8 L431.1 1292.6 L435.9 1295.3 L440.1 1287.1 L444.2 1286.4 L447.6 1295.3 L451.7 1299.5 L456.6 1305 L460 1310.5 L463.6 1303.7 L468.6 1306.2 L470 1306.6 L477.5 1302.9 L482.4 1295.4 L489.9 1295.4 L496.1 1297.9 L501.1 1306.6 L506 1311.6 L509.8 1324 L513.5 1317.8 L518.5 1316.6 L523.4 1322.8 L529.6 1330.2 L537.1 1327.7 L543.3 1330.2 L549.5 1336.4 L554.5 1345.1 L560.7 1343.9 L565.7 1346.4 L571.9 1341.4 L575.6 1336.4 L581.8 1341.4 L589.3 1342.7 L598 1346.4 L605.4 1351.4 L612.9 1347.6 L620.3 1348.9 L626.6 1352.6 L634 1356.3 L641.5 1356.3 L648.9 1356.3 L655.1 1338.9 L660.1 1332.7 L665.1 1341.4 L671.3 1345.1 L678.7 1350.1 L685 1356.3 L692.4 1355.1 L699.9 1357.6 L708.6 1357.6" stroke="#e24a33" stroke-width="11.8"/><path d="M241.2 1167 L246.2 1158.3 L252.4 1160.8 L258.6 1145.9 L261.1 1162.1 L266 1181.9 L273.5 1184.4 L278.5 1194.4 L283.4 1219.2 L288.4 1239.1 L291.6 1245.3 L297.1 1232.9 L303.3 1227.9 L307 1224.2 L310 1199.3 L314 1194.4 L318.2 1200.6 L322.4 1205.6 L328.2 1200.6 L330 1203.2 L334.1 1201.8 L338.9 1193.5 L342.4 1204.6 L345.1 1223.8 L349.3 1234.1 L354.8 1232.8 L361 1237.6 L366.5 1235.5 L369.9 1234.8 L371.3 1210.1 L373.3 1185.3 L375.4 1177 L377.5 1185.3 L378.4 1210.1 L379 1237.6 L379.2 1247.2 L382.3 1249.9 L387.8 1252.7 L392.6 1259.6 L395.3 1272 L397.4 1285.7 L400.2 1299.5 L402.9 1313.2 L407 1320.1 L409.8 1331.1 L413.9 1339.4 L417.4 1333.9 L419.4 1313.2 L420.8 1298.1 L424.2 1292.6 L427 1299.5 L429 1310.5 L432.5 1306.3 L435.9 1302.2 L440.1 1302.2 L444.2 1307.7 L448.3 1313.2 L452.4 1322.9 L456.6 1324.2 L460 1320.1 L461.1 1313.7 L466.1 1317.4 L472.3 1316.1 L476.2 1314.1 L481.2 1306.6 L488.6 1306.6 L494.9 1314.1 L501.1 1326.5 L506 1338.9 L509.8 1341.4 L513.5 1331.5 L517.2 1329 L523.4 1335.2 L529.6 1340.2 L535.9 1336.4 L540.8 1341.4 L547 1351.4 L553.3 1353.8 L559.5 1351.4 L565.7 1356.3 L570.6 1351.4 L574.4 1346.4 L581.8 1348.9 L590.5 1351.4 L599.2 1356.3 L605.4 1358.8 L611.7 1353.8 L619.1 1356.3 L626.6 1361.3 L635.3 1360.8 L644 1362.5 L650.2 1357.6 L655.1 1345.1 L660.1 1345.1 L665.1 1352.6 L671.3 1353.8 L677.5 1360 L683.7 1363.8 L689.9 1360.8 L696.1 1363.8 L703.6 1362.5 L708.6 1362.5" stroke="#348abd" stroke-width="11.8"/>
</g>
<rect x="238.4" y="934.5" width="472.4" height="471.9000000000001" fill="none" stroke="#f60000" stroke-width="4.2"/>
<path d="M807.2 1065.3H847.9" stroke="#e24a33" stroke-width="4" stroke-linecap="round"/>
<path d="M807.2 1094.3999999999999H847.9" stroke="#348abd" stroke-width="4" stroke-linecap="round"/>
<text class="lg" x="864.3" y="1072.8999999999999" textLength="123.5" lengthAdjust="spacingAndGlyphs">Original Price</text>
<text class="lg" x="864.3" y="1102.0" textLength="102" lengthAdjust="spacingAndGlyphs">Predictions</text>
<text class="ax" x="548.9" y="1704.5" text-anchor="middle">Time</text>
<text class="ax" transform="translate(40.5 1351.6000000000001) rotate(-90)" text-anchor="middle" style="font-size:24.7px">Price</text>
<text class="cap" x="395.2" y="1807.9" font-size="29" textLength="39.8" lengthAdjust="spacingAndGlyphs" style="stroke-width:.2px">(b)</text>
<text class="cap" x="449.8" y="1807.9" font-size="21.5" textLength="125.3" lengthAdjust="spacingAndGlyphs">Prediction</text>
<text class="cap" x="587.1" y="1807.9" font-size="21.5" textLength="23.1" lengthAdjust="spacingAndGlyphs">of</text>
<text class="cap" x="620.8" y="1807.9" font-size="21.5" textLength="52.9" lengthAdjust="spacingAndGlyphs">LTC</text>
</svg></body></html>
